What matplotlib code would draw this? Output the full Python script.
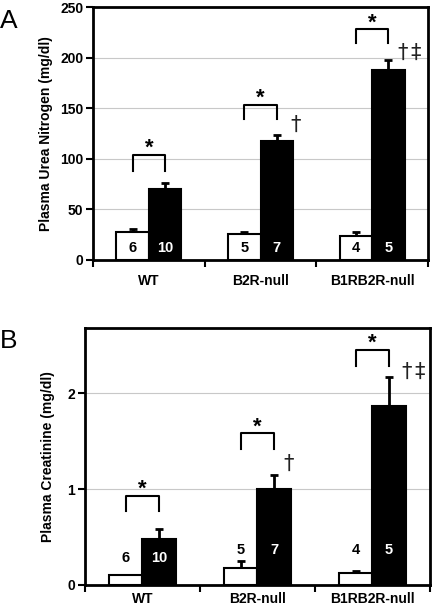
import numpy as np
import matplotlib
matplotlib.use("Agg")
import matplotlib.pyplot as plt

plt.rcParams['font.family'] = ['Liberation Sans', 'DejaVu Sans']

groups = ['WT', 'B2R-null', 'B1RB2R-null']

# panel A: plasma urea nitrogen (mg/dl)
bun_white = [28, 26, 24]
bun_white_err = [3, 2, 4]
bun_black = [70, 118, 188]
bun_black_err = [6, 6, 10]
n_white = ['6', '5', '4']
n_black = ['10', '7', '5']

# panel B: plasma creatinine (mg/dl)
cr_white = [0.10, 0.18, 0.12]
cr_white_err = [0.0, 0.07, 0.03]
cr_black = [0.48, 1.0, 1.87]
cr_black_err = [0.10, 0.15, 0.30]

# significance brackets: (top, leg bottom) per group
bun_brackets = [(104, 88), (153, 139), (228, 214)]
cr_brackets = [(0.93, 0.77), (1.58, 1.42), (2.45, 2.28)]

w = 0.29


def panel(ax, white, werr, black, berr, ymax, yticks, ylabel, brackets,
          nlab_y, star_off, dag, xpad):
    x = np.arange(len(groups))
    ax.bar(x - w / 2, white, w, color='white', edgecolor='black', linewidth=1.5, zorder=3)
    ax.bar(x + w / 2, black, w, color='black', edgecolor='black', linewidth=1.5, zorder=3)
    ax.errorbar(x - w / 2, white, yerr=[np.zeros(3), werr], fmt='none', ecolor='black',
                elinewidth=2, capsize=3, capthick=2, zorder=2)
    ax.errorbar(x + w / 2, black, yerr=[np.zeros(3), berr], fmt='none', ecolor='black',
                elinewidth=2, capsize=3, capthick=2, zorder=2)

    ax.set_xlim(-0.5, 2.5)
    ax.set_ylim(0, ymax)
    ax.set_yticks(yticks)
    ax.set_xticks([-0.5, 0.5, 1.5, 2.5])
    ax.set_xticklabels([])
    ax.set_xticks(x, minor=True)
    ax.set_xticklabels(groups, minor=True, fontweight='bold', fontsize=10)
    ax.tick_params(axis='x', which='minor', length=0, pad=xpad)
    ax.tick_params(axis='x', which='major', length=5, width=1.5, direction='out')
    ax.tick_params(axis='y', length=5, width=1.5, labelsize=10, pad=2)
    for lab in ax.get_yticklabels():
        lab.set_fontweight('bold')
    ax.yaxis.grid(True, color='#c8c8c8', linewidth=0.8, zorder=0)
    ax.set_axisbelow(True)
    for s in ax.spines.values():
        s.set_linewidth(2)
    ax.set_ylabel(ylabel, fontweight='bold', fontsize=10)

    for i in range(3):
        top, leg = brackets[i]
        ax.plot([i - w / 2, i - w / 2, i + w / 2, i + w / 2], [leg, top, top, leg],
                color='black', linewidth=1.5, zorder=4)
        ax.text(i, top + star_off, '*', ha='center', va='bottom', fontsize=16,
                fontweight='bold')
        ax.text(i - w / 2, nlab_y[i], n_white[i], ha='center', va='center',
                fontsize=10.5, fontweight='bold', color='black', zorder=5)
        ax.text(i + w / 2, nlab_y[i], n_black[i], ha='center', va='center',
                fontsize=10.5, fontweight='bold', color='white', zorder=5)
    for xd, yd, s in dag:
        ax.text(xd, yd, s, ha='center', va='bottom', fontsize=15, color='#222222',
                family='DejaVu Sans')


fig = plt.figure(figsize=(4.33, 6.10), dpi=100)

axA = fig.add_axes([0.2148, 0.5738, 0.7737, 0.4147])
panel(axA, bun_white, bun_white_err, bun_black, bun_black_err, 250,
      [0, 50, 100, 150, 200, 250], 'Plasma Urea Nitrogen (mg/dl)', bun_brackets,
      [12, 12, 12], -4,
      [(1.31, 124, '\u2020'), (2.275, 195, '\u2020'), (2.385, 195, '\u2021')], 10)
axA.yaxis.set_label_coords(-0.12, 0.5)

axB = fig.add_axes([0.1963, 0.041, 0.7967, 0.4213])
panel(axB, cr_white, cr_white_err, cr_black, cr_black_err, 2.68,
      [0, 1, 2], 'Plasma Creatinine (mg/dl)', cr_brackets,
      [0.28, 0.36, 0.36], -0.04,
      [(1.274, 1.16, '\u2020'), (2.3, 2.12, '\u2020'), (2.41, 2.12, '\u2021')], 5)
axB.yaxis.set_label_coords(-0.087, 0.5)

fig.text(0.0, 0.985, 'A', fontsize=19, ha='left', va='top')
fig.text(0.0, 0.46, 'B', fontsize=19, ha='left', va='top')

fig.savefig('out.png', dpi=100)
